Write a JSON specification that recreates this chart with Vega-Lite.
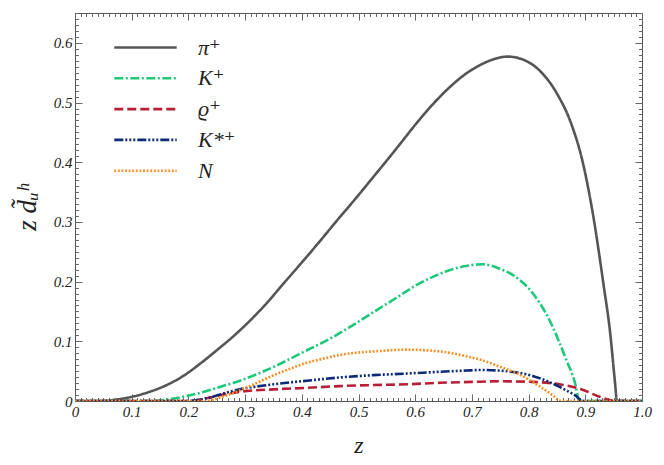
{
  "$schema": "https://vega.github.io/schema/vega-lite/v6.json",
  "autosize": "none",
  "width": 567,
  "height": 388,
  "padding": {"left": 75, "top": 13, "right": 22, "bottom": 64},
  "background": "white",
  "config": {
    "view": {"stroke": "#555555", "strokeWidth": 1},
    "font": "Liberation Serif, DejaVu Serif, serif",
    "axis": {"grid": false, "domain": false, "tickColor": "#666666", "labelFont": "Liberation Serif, DejaVu Serif, serif", "titleFont": "Liberation Serif, DejaVu Serif, serif"}
  },
  "data": {
    "values": [
      {"h": "π⁺", "z": 0, "v": 0},
      {"h": "π⁺", "z": 0.05, "v": 0},
      {"h": "π⁺", "z": 0.07, "v": 0.002},
      {"h": "π⁺", "z": 0.1, "v": 0.007},
      {"h": "π⁺", "z": 0.132, "v": 0.0155},
      {"h": "π⁺", "z": 0.16, "v": 0.026},
      {"h": "π⁺", "z": 0.191, "v": 0.042},
      {"h": "π⁺", "z": 0.22, "v": 0.062},
      {"h": "π⁺", "z": 0.25, "v": 0.085},
      {"h": "π⁺", "z": 0.28, "v": 0.109},
      {"h": "π⁺", "z": 0.309, "v": 0.135},
      {"h": "π⁺", "z": 0.34, "v": 0.166},
      {"h": "π⁺", "z": 0.367, "v": 0.196},
      {"h": "π⁺", "z": 0.4, "v": 0.232},
      {"h": "π⁺", "z": 0.426, "v": 0.261},
      {"h": "π⁺", "z": 0.46, "v": 0.3},
      {"h": "π⁺", "z": 0.5, "v": 0.345},
      {"h": "π⁺", "z": 0.519, "v": 0.367},
      {"h": "π⁺", "z": 0.55, "v": 0.403},
      {"h": "π⁺", "z": 0.572, "v": 0.429},
      {"h": "π⁺", "z": 0.602, "v": 0.465},
      {"h": "π⁺", "z": 0.631, "v": 0.497},
      {"h": "π⁺", "z": 0.66, "v": 0.525},
      {"h": "π⁺", "z": 0.689, "v": 0.548},
      {"h": "π⁺", "z": 0.719, "v": 0.565},
      {"h": "π⁺", "z": 0.74, "v": 0.573},
      {"h": "π⁺", "z": 0.763, "v": 0.577},
      {"h": "π⁺", "z": 0.79, "v": 0.572},
      {"h": "π⁺", "z": 0.82, "v": 0.553},
      {"h": "π⁺", "z": 0.85, "v": 0.515},
      {"h": "π⁺", "z": 0.875, "v": 0.465},
      {"h": "π⁺", "z": 0.895, "v": 0.402},
      {"h": "π⁺", "z": 0.914, "v": 0.31},
      {"h": "π⁺", "z": 0.932, "v": 0.196},
      {"h": "π⁺", "z": 0.944, "v": 0.113},
      {"h": "π⁺", "z": 0.952, "v": 0.035},
      {"h": "π⁺", "z": 0.956, "v": 0},
      {"h": "π⁺", "z": 1.0, "v": 0},
      {"h": "K⁺", "z": 0, "v": 0},
      {"h": "K⁺", "z": 0.138, "v": 0},
      {"h": "K⁺", "z": 0.167, "v": 0.003},
      {"h": "K⁺", "z": 0.196, "v": 0.008},
      {"h": "K⁺", "z": 0.226, "v": 0.015},
      {"h": "K⁺", "z": 0.25, "v": 0.022},
      {"h": "K⁺", "z": 0.291, "v": 0.034},
      {"h": "K⁺", "z": 0.35, "v": 0.057},
      {"h": "K⁺", "z": 0.409, "v": 0.085},
      {"h": "K⁺", "z": 0.449, "v": 0.104},
      {"h": "K⁺", "z": 0.5, "v": 0.133},
      {"h": "K⁺", "z": 0.535, "v": 0.154},
      {"h": "K⁺", "z": 0.572, "v": 0.176},
      {"h": "K⁺", "z": 0.602, "v": 0.194},
      {"h": "K⁺", "z": 0.631, "v": 0.208},
      {"h": "K⁺", "z": 0.66, "v": 0.219},
      {"h": "K⁺", "z": 0.689, "v": 0.226},
      {"h": "K⁺", "z": 0.719, "v": 0.229},
      {"h": "K⁺", "z": 0.748, "v": 0.222},
      {"h": "K⁺", "z": 0.777, "v": 0.208},
      {"h": "K⁺", "z": 0.807, "v": 0.181},
      {"h": "K⁺", "z": 0.836, "v": 0.137},
      {"h": "K⁺", "z": 0.866, "v": 0.07},
      {"h": "K⁺", "z": 0.883, "v": 0.026},
      {"h": "K⁺", "z": 0.889, "v": 0},
      {"h": "K⁺", "z": 1.0, "v": 0},
      {"h": "ϱ⁺", "z": 0, "v": 0},
      {"h": "ϱ⁺", "z": 0.2, "v": 0},
      {"h": "ϱ⁺", "z": 0.238, "v": 0.006},
      {"h": "ϱ⁺", "z": 0.267, "v": 0.012},
      {"h": "ϱ⁺", "z": 0.291, "v": 0.0155},
      {"h": "ϱ⁺", "z": 0.35, "v": 0.0195},
      {"h": "ϱ⁺", "z": 0.409, "v": 0.022},
      {"h": "ϱ⁺", "z": 0.467, "v": 0.025},
      {"h": "ϱ⁺", "z": 0.526, "v": 0.0267},
      {"h": "ϱ⁺", "z": 0.585, "v": 0.028},
      {"h": "ϱ⁺", "z": 0.644, "v": 0.0305},
      {"h": "ϱ⁺", "z": 0.7, "v": 0.032},
      {"h": "ϱ⁺", "z": 0.75, "v": 0.033},
      {"h": "ϱ⁺", "z": 0.807, "v": 0.032},
      {"h": "ϱ⁺", "z": 0.854, "v": 0.028},
      {"h": "ϱ⁺", "z": 0.895, "v": 0.019},
      {"h": "ϱ⁺", "z": 0.924, "v": 0.0075},
      {"h": "ϱ⁺", "z": 0.954, "v": 0},
      {"h": "ϱ⁺", "z": 1.0, "v": 0},
      {"h": "K*⁺", "z": 0, "v": 0},
      {"h": "K*⁺", "z": 0.2, "v": 0},
      {"h": "K*⁺", "z": 0.238, "v": 0.006},
      {"h": "K*⁺", "z": 0.267, "v": 0.014},
      {"h": "K*⁺", "z": 0.291, "v": 0.0195},
      {"h": "K*⁺", "z": 0.35, "v": 0.028},
      {"h": "K*⁺", "z": 0.409, "v": 0.034},
      {"h": "K*⁺", "z": 0.467, "v": 0.0395},
      {"h": "K*⁺", "z": 0.526, "v": 0.0433},
      {"h": "K*⁺", "z": 0.585, "v": 0.046},
      {"h": "K*⁺", "z": 0.644, "v": 0.049},
      {"h": "K*⁺", "z": 0.69, "v": 0.051},
      {"h": "K*⁺", "z": 0.719, "v": 0.052},
      {"h": "K*⁺", "z": 0.748, "v": 0.051},
      {"h": "K*⁺", "z": 0.778, "v": 0.048},
      {"h": "K*⁺", "z": 0.807, "v": 0.042},
      {"h": "K*⁺", "z": 0.836, "v": 0.032},
      {"h": "K*⁺", "z": 0.866, "v": 0.018},
      {"h": "K*⁺", "z": 0.883, "v": 0.009},
      {"h": "K*⁺", "z": 0.895, "v": 0},
      {"h": "K*⁺", "z": 1.0, "v": 0},
      {"h": "N", "z": 0, "v": 0},
      {"h": "N", "z": 0.23, "v": 0},
      {"h": "N", "z": 0.26, "v": 0.007},
      {"h": "N", "z": 0.291, "v": 0.018},
      {"h": "N", "z": 0.32, "v": 0.03},
      {"h": "N", "z": 0.35, "v": 0.043},
      {"h": "N", "z": 0.379, "v": 0.054},
      {"h": "N", "z": 0.409, "v": 0.064},
      {"h": "N", "z": 0.438, "v": 0.071},
      {"h": "N", "z": 0.467, "v": 0.077},
      {"h": "N", "z": 0.497, "v": 0.081},
      {"h": "N", "z": 0.526, "v": 0.083},
      {"h": "N", "z": 0.585, "v": 0.086},
      {"h": "N", "z": 0.644, "v": 0.083},
      {"h": "N", "z": 0.69, "v": 0.075},
      {"h": "N", "z": 0.719, "v": 0.068},
      {"h": "N", "z": 0.748, "v": 0.058},
      {"h": "N", "z": 0.778, "v": 0.047},
      {"h": "N", "z": 0.807, "v": 0.032},
      {"h": "N", "z": 0.825, "v": 0.021},
      {"h": "N", "z": 0.842, "v": 0.01},
      {"h": "N", "z": 0.857, "v": 0},
      {"h": "N", "z": 1.0, "v": 0}
    ]
  },
  "layer": [
    {
      "mark": {"type": "line", "strokeWidth": 2.6, "interpolate": "monotone", "clip": true},
      "encoding": {
        "x": {
          "field": "z", "type": "quantitative",
          "scale": {"domain": [0, 1], "nice": false, "zero": false},
          "axis": {
            "orient": "bottom", "values": [0, 0.1, 0.2, 0.3, 0.4, 0.5, 0.6, 0.7, 0.8, 0.9, 1.0],
            "tickSize": -7, "labelPadding": 10,
            "labelExpr": "datum.value == 0 ? '0' : format(datum.value, '.1f')",
            "labelFontSize": 15, "labelFontStyle": "italic", "labelColor": "#222222",
            "labelFlush": false, "labelOverlap": false,
            "title": "z", "titleFontSize": 24, "titleFontStyle": "italic", "titleFontWeight": "normal",
            "titleColor": "#222222", "titlePadding": 14
          }
        },
        "y": {
          "field": "v", "type": "quantitative",
          "scale": {"domain": [0, 0.65], "nice": false},
          "axis": {
            "orient": "left", "values": [0, 0.1, 0.2, 0.3, 0.4, 0.5, 0.6],
            "tickSize": -7, "labelPadding": 10,
            "labelExpr": "datum.value == 0 ? '0' : format(datum.value, '.1f')",
            "labelFontSize": 15, "labelFontStyle": "italic", "labelColor": "#222222",
            "labelFlush": false, "labelOverlap": false,
            "title": "z d̃ᵤʰ", "titleFontSize": 27, "titleFontStyle": "italic", "titleFontWeight": "normal",
            "titleColor": "#222222", "titlePadding": 12
          }
        },
        "color": {
          "field": "h", "type": "nominal",
          "sort": ["π⁺", "K⁺", "ϱ⁺", "K*⁺", "N"],
          "scale": {"domain": ["π⁺", "K⁺", "ϱ⁺", "K*⁺", "N"], "range": ["#555555", "#1cc97a", "#b81f36", "#0b2b7a", "#ff8a1c"]},
          "legend": {
            "orient": "none", "legendX": 57, "legendY": 21, "padding": 0,
            "title": null, "symbolType": "M-2.6,0H2.6", "symbolSize": 576, "symbolStrokeWidth": 2.6,
            "rowPadding": 5.8, "labelOffset": 39,
            "labelFontSize": 22, "labelFontStyle": "italic", "labelFont": "Liberation Serif, DejaVu Serif, serif", "labelColor": "#222222"
          }
        },
        "strokeDash": {
          "field": "h", "type": "nominal",
          "sort": ["π⁺", "K⁺", "ϱ⁺", "K*⁺", "N"],
          "scale": {"domain": ["π⁺", "K⁺", "ϱ⁺", "K*⁺", "N"], "range": [[1, 0], [9, 2.5, 2, 2.5], [9, 4], [9, 2, 2, 2, 2, 2, 2, 2], [1.8, 1.8]]},
          "legend": null
        }
      }
    },
    {
      "mark": {"type": "point", "opacity": 0},
      "encoding": {
        "x": {"field": "z", "type": "quantitative", "axis": {"orient": "bottom", "tickCount": 100, "tickSize": -3.5, "labels": false, "title": null}},
        "y": {"field": "v", "type": "quantitative", "axis": {"orient": "left", "tickCount": 65, "tickSize": -3.5, "labels": false, "title": null}}
      }
    },
    {
      "mark": {"type": "point", "opacity": 0},
      "encoding": {
        "x": {"field": "z", "type": "quantitative", "axis": {"orient": "top", "values": [0, 0.1, 0.2, 0.3, 0.4, 0.5, 0.6, 0.7, 0.8, 0.9, 1.0], "tickSize": -7, "labels": false, "title": null}},
        "y": {"field": "v", "type": "quantitative", "axis": {"orient": "right", "values": [0, 0.1, 0.2, 0.3, 0.4, 0.5, 0.6], "tickSize": -7, "labels": false, "title": null}}
      }
    },
    {
      "mark": {"type": "point", "opacity": 0},
      "encoding": {
        "x": {"field": "z", "type": "quantitative", "axis": {"orient": "top", "tickCount": 100, "tickSize": -3.5, "labels": false, "title": null}},
        "y": {"field": "v", "type": "quantitative", "axis": {"orient": "right", "tickCount": 65, "tickSize": -3.5, "labels": false, "title": null}}
      }
    }
  ],
  "resolve": {"axis": {"x": "independent", "y": "independent"}}
}
